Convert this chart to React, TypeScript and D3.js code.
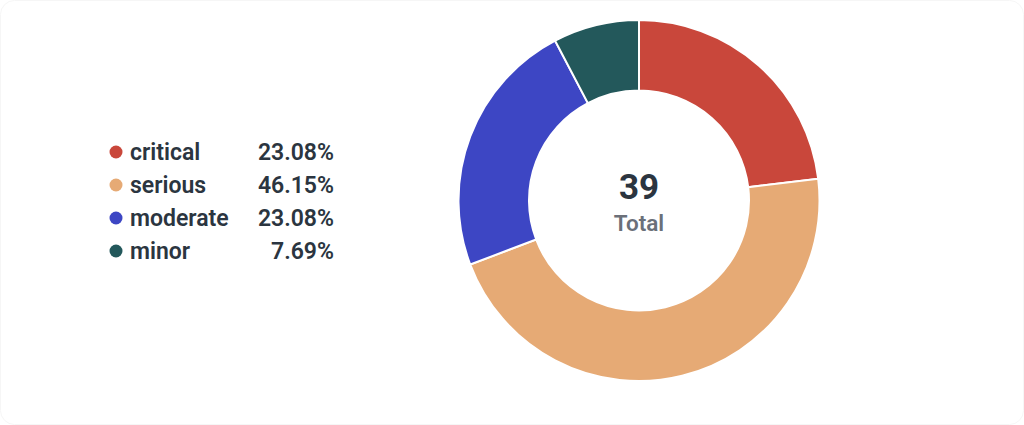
import React from "react";
import * as d3 from "d3";

const categories = ["critical", "serious", "moderate", "minor"];
const counts = [9, 18, 9, 3];
const colors = ["#c9473b", "#e6aa75", "#3d46c4", "#23585b"];
const totalLabel = "Total";

const W = 1024;
const H = 425;

export default function App() {
  const total = d3.sum(counts);
  const data = categories.map((c, i) => ({ name: c, value: counts[i], color: colors[i] }));
  const pie = d3.pie<any>().value((d) => d.value).sort(null);
  const arcs = pie(data);
  const cx = 639;
  const cy = 200.5;
  const arc = d3.arc<any>().innerRadius(110).outerRadius(180.5);
  const fmt = d3.format(".2f");
  const font = "Roboto, 'Noto Sans', sans-serif";
  const rowY = d3.scalePoint<string>().domain(categories).range([152, 251]);

  return (
    <div style={{ position: "fixed", left: 0, top: 0, width: W, height: H, background: "#ffffff" }}>
      <svg width={W} height={H} style={{ display: "block" }}>
        <rect x={0.5} y={0.5} width={W - 1} height={H - 1} rx={14} fill="#ffffff" stroke="#f6f6f6" />
        <g transform={`translate(${cx},${cy})`}>
          {arcs.map((a, i) => (
            <path key={i} d={arc(a) as string} fill={a.data.color} stroke="#ffffff" strokeWidth={2} />
          ))}
          <text x={0} y={-2} textAnchor="middle" fontFamily={font} fontWeight={700} fontSize={35} fill="#2b3540">
            {total}
          </text>
          <text x={0} y={30} textAnchor="middle" fontFamily={font} fontWeight={600} fontSize={22.5} fill="#6b7079">
            {totalLabel}
          </text>
        </g>
        <g>
          {data.map((d) => {
            const y = rowY(d.name) as number;
            return (
              <g key={d.name}>
                <circle cx={116} cy={y} r={6.5} fill={d.color} />
                <text x={130} y={y} dy="0.36em" fontFamily={font} fontWeight={600} fontSize={23} fill="#2b3540">
                  {d.name}
                </text>
                <text x={334} y={y} dy="0.36em" textAnchor="end" fontFamily={font} fontWeight={600} fontSize={23} fill="#2b3540">
                  {fmt((d.value / total) * 100)}%
                </text>
              </g>
            );
          })}
        </g>
      </svg>
    </div>
  );
}
